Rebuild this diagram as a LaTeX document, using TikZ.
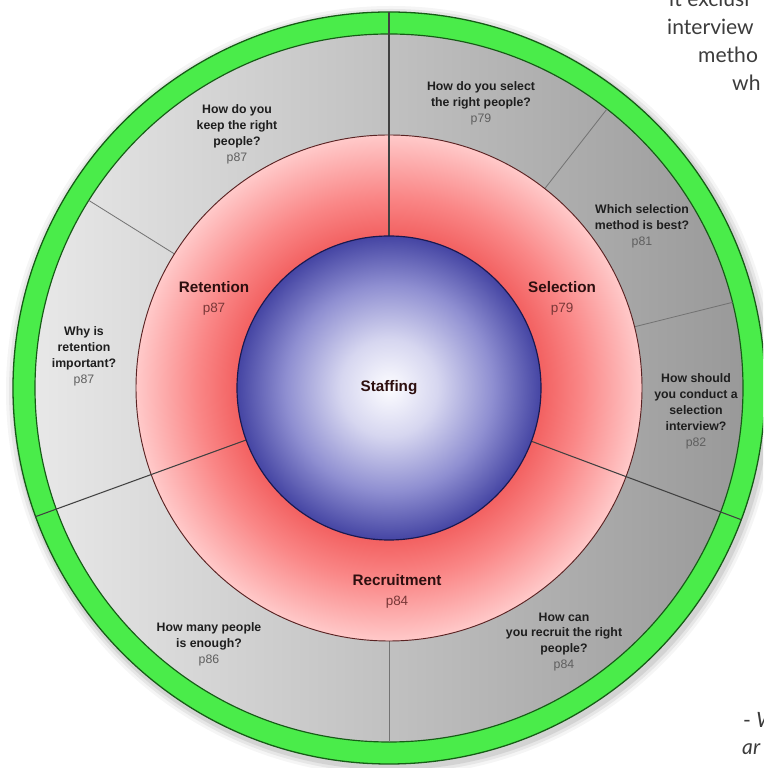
\documentclass[tikz,border=0pt]{standalone}
\usepackage{fontspec}
\setmainfont{Liberation Sans}
\newfontfamily\pagefont{Lato}
\definecolor{ringgreen}{RGB}{74,236,74}
\definecolor{greenline}{RGB}{22,92,22}
\definecolor{qtext}{RGB}{30,30,30}
\definecolor{qpage}{RGB}{95,95,95}
\definecolor{tpage}{RGB}{120,55,55}
\definecolor{topictext}{RGB}{45,15,15}
\definecolor{redline}{RGB}{90,35,35}
\definecolor{blueline}{RGB}{25,25,80}
\definecolor{pagetext}{RGB}{60,60,60}
\pgfdeclareradialshading{redring}{\pgfpoint{0bp}{0bp}}{rgb(0bp)=(0.95,0.38,0.38); rgb(15bp)=(0.95,0.38,0.38); rgb(19bp)=(0.98,0.53,0.53); rgb(25bp)=(1,0.79,0.79); rgb(50bp)=(1,0.79,0.79)}
\pgfdeclareradialshading{blueball}{\pgfpoint{0bp}{0bp}}{rgb(0bp)=(0.99,0.99,1); rgb(8bp)=(0.84,0.84,0.94); rgb(17bp)=(0.56,0.56,0.82); rgb(25bp)=(0.27,0.27,0.64); rgb(50bp)=(0.27,0.27,0.64)}
\newcommand\qpg[1]{{\mdseries\color{qpage}#1}}
\newcommand\tpg[1]{{\fontsize{11.5}{15}\selectfont\mdseries\color{tpage}#1}}
\begin{document}
\begin{tikzpicture}[x=0.03cm, y=0.03cm,
  question/.style={align=center, inner sep=0pt, text=qtext,
    font=\fontsize{10.5}{13.6}\selectfont\bfseries},
  topic/.style={align=center, inner sep=0pt, text=topictext,
    font=\fontsize{13}{17}\selectfont\bfseries},
  fragment/.style={anchor=base west, inner sep=0pt, text=pagetext,
    font=\pagefont\fontsize{18}{22}\selectfont},
  mainline/.style={draw=black!75, line width=0.9pt},
  minorline/.style={draw=black!55, line width=0.7pt}]
\path[use as bounding box, fill=white] (0,0) rectangle (763,768);
\clip (0,0) rectangle (763,768);
\coordinate (C) at (389,380);
% soft shadow
\foreach \r/\o in {385/0.04, 382/0.06, 379/0.08}
  \fill[black, opacity=\o] ([shift={(2,-3)}]C) circle (\r);
% green ring and grey ring
\fill[ringgreen] (C) circle (376);
\draw[greenline, line width=1.1pt] (C) circle (376);
\shade[left color=black!9, right color=black!40] (C) circle (354);
\draw[greenline, line width=1pt] (C) circle (354);
\begin{scope}[shift={(C)}]
  \foreach \a in {52, 14, 148}
    \draw[minorline] (\a:253) -- (\a:354);
  \draw[minorline] (270:253) -- (270:354);
  % red ring
  \shade[shading=redring] (0,0) circle (253);
  \draw[redline, line width=0.8pt] (0,0) circle (253);
  \foreach \a in {90, -20.5, 200}
    \draw[mainline] (\a:152) -- (\a:376);
  % blue ball
  \shade[shading=blueball] (0,0) circle (152);
  \draw[blueline, line width=1pt] (0,0) circle (152);
\end{scope}
% labels
\node[topic] (staffing) at (C) {Staffing};
\node[topic] (t-selection) at (562,470) {Selection\\\tpg{p79}};
\node[topic] (t-retention) at (214,470) {Retention\\\tpg{p87}};
\node[topic] (t-recruitment) at (397,177) {Recruitment\\\tpg{p84}};
\node[question] (q-select) at (481,665) {How do you select\\the right people?\\\qpg{p79}};
\node[question] (q-method) at (642,542) {Which selection\\method is best?\\\qpg{p81}};
\node[question] (q-interview) at (696,357) {How should\\you conduct a\\selection\\interview?\\\qpg{p82}};
\node[question] (q-recruit) at (564,126) {How can\\you recruit the right\\people?\\\qpg{p84}};
\node[question] (q-enough) at (209,124) {How many people\\is enough?\\\qpg{p86}};
\node[question] (q-why) at (84,412) {Why is\\retention\\important?\\\qpg{p87}};
\node[question] (q-keep) at (237,634) {How do you\\keep the right\\people?\\\qpg{p87}};
% page text cut off at the right edge
\node[fragment] (frag1) at (669,761) {it exclusi};
\node[fragment] (frag2) at (667,733) {interview};
\node[fragment] (frag3) at (698,705) {metho};
\node[fragment] (frag4) at (732,677) {wh};
\node[fragment] (frag5) at (743,40) {- \textit{W}};
\node[fragment, font=\pagefont\itshape\fontsize{18}{22}\selectfont] (frag6) at (742,13) {ar};
\end{tikzpicture}
\end{document}
